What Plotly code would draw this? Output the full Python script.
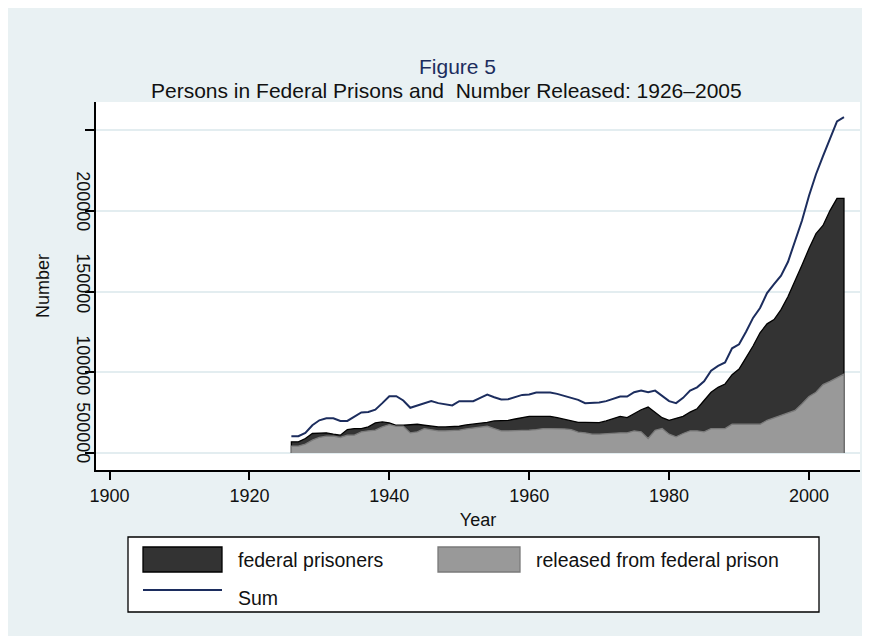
import plotly.graph_objects as go

# ---------------- data ----------------
years = list(range(1926, 2006))

federal_prisoners = [
    6950, 6950, 9000, 12070, 12470, 12470, 11660, 11040, 14520, 15130,   # 1926-1935
    15130, 16160, 18610, 19220, 18610, 17180, 17180, 17590, 17790, 17180,  # 1936-1945
    16560, 16160, 16160, 16160, 16560, 17380, 17790, 18200, 19020, 19840,  # 1946-1955
    19840, 20250, 21060, 21680, 22700, 22700, 22700, 22700, 21880, 21060,  # 1956-1965
    19840, 19020, 19020, 19020, 18800, 19840, 21270, 22700, 21880, 24340,  # 1966-1975
    26790, 28430, 25360, 21880, 20250, 21270, 22700, 25360, 27400, 32520,  # 1976-1985
    37630, 40690, 42740, 48470, 51940, 59100, 66260, 74440, 79960, 82620,  # 1986-1995
    88750, 96930, 106140, 116360, 126590, 135790, 140900, 150100, 157670, 157670,  # 1996-2005
]

released = [
    4290, 4290, 5520, 7980, 9610, 10430, 10430, 9610, 11040, 11040,        # 1926-1935
    13090, 13700, 14110, 16160, 17590, 16560, 16560, 12470, 13090, 15130,  # 1936-1945
    14520, 13700, 13700, 13700, 14110, 14930, 15340, 15750, 16560, 15130,  # 1946-1955
    13700, 13700, 13700, 13700, 14110, 14520, 15130, 15130, 15130, 14930,  # 1956-1965
    14520, 12880, 12470, 11660, 11660, 12070, 12470, 12470, 12470, 13700,  # 1966-1975
    13090, 9000, 14110, 15130, 11660, 10020, 12070, 13700, 13700, 13090,   # 1976-1985
    15130, 15130, 15130, 17790, 17790, 17790, 17790, 17790, 20250, 21880,  # 1986-1995
    23310, 24750, 26380, 30470, 34970, 37630, 42330, 44380, 46830, 48860,  # 1996-2005
]

sum_total = [
    10430, 10430, 12470, 17180, 20250, 21470, 21470, 19840, 19840, 22700,  # 1926-1935
    25150, 25360, 26790, 30880, 35170, 35170, 32520, 28020, 29450, 30880,  # 1936-1945
    32110, 30880, 30060, 29450, 32110, 32110, 32110, 34150, 36200, 34560,  # 1946-1955
    33130, 33330, 34560, 35990, 36200, 37420, 37420, 37420, 36600, 35370,  # 1956-1965
    34150, 32920, 30880, 30880, 31300, 32110, 33330, 34970, 34970, 37630,  # 1966-1975
    38650, 37630, 38650, 35580, 32110, 30880, 34150, 38650, 40690, 44370,  # 1976-1985
    50920, 53990, 56030, 64830, 67280, 75050, 83640, 89770, 98980, 104500, # 1986-1995
    109820, 118410, 130680, 143970, 159300, 172600, 183840, 195090, 205310, 207980,  # 1996-2005
]

x_tick_vals = [1900, 1920, 1940, 1960, 1980, 2000]
y_grid_vals = [0, 50000, 100000, 150000, 200000]
y_label_vals = [-4950, 14240, 52600, 103400, 154200]
y_label_text = ["0", "50000", "100000", "150000", "200000"]

series_names = ["federal prisoners", "released from federal prison", "Sum"]

# ---------------- styling ----------------
BG = "#e9f1f3"
GRID = "#e3edf0"
DARK = "#333333"
GRAY = "#999999"
NAVY = "#1c2d5e"
FONT = "Liberation Sans, Arial, sans-serif"
TXT = "#111111"

W, H = 862, 628          # page adds an 8px body margin
OFF = 8
ML, MR, MT, MB = 88, 10, 94, 166
PW, PH = W - ML - MR, H - MT - MB

def fx(px):  # page pixel -> paper x
    return (px - OFF - ML) / PW

def fy(py):  # page pixel -> paper y
    return (H - MB - (py - OFF)) / PH

X_RANGE = [1898.07, 2007.29]
Y_RANGE = [-10526, 217337]

fig = go.Figure()

fig.add_trace(go.Scatter(
    x=[years[0]] + years + [years[-1]],
    y=[0] + federal_prisoners + [0],
    mode="lines", fill="toself", fillcolor=DARK,
    line=dict(color="#000000", width=1.3),
    name=series_names[0], showlegend=False, hoverinfo="skip"))

fig.add_trace(go.Scatter(
    x=[years[0]] + years + [years[-1]],
    y=[0] + released + [0],
    mode="lines", fill="toself", fillcolor=GRAY,
    line=dict(color="#7a7a7a", width=1.3),
    name=series_names[1], showlegend=False, hoverinfo="skip"))

fig.add_trace(go.Scatter(
    x=years, y=sum_total, mode="lines",
    line=dict(color=NAVY, width=2),
    name=series_names[2], showlegend=False))

fig.add_trace(go.Scatter(x=[years[0]], y=[0], yaxis="y2", mode="markers",
                         marker=dict(opacity=0), showlegend=False, hoverinfo="skip"))

shapes = [
    dict(type="rect", xref="paper", yref="paper", x0=fx(128), x1=fx(819), y0=fy(612), y1=fy(537),
         fillcolor="white", line=dict(color="#000000", width=1.3), layer="above"),
    dict(type="rect", xref="paper", yref="paper", x0=fx(143), x1=fx(222), y0=fy(572), y1=fy(547),
         fillcolor=DARK, line=dict(color="#000000", width=1.3), layer="above"),
    dict(type="rect", xref="paper", yref="paper", x0=fx(438), x1=fx(520), y0=fy(572), y1=fy(547),
         fillcolor=GRAY, line=dict(color="#7a7a7a", width=1.3), layer="above"),
    dict(type="line", xref="paper", yref="paper", x0=fx(143), x1=fx(222), y0=fy(590), y1=fy(590),
         line=dict(color=NAVY, width=2), layer="above"),
]

annotations = [
    dict(text="Figure 5", xref="paper", yref="paper", x=fx(457), y=fy(66),
         xanchor="center", yanchor="middle", showarrow=False,
         font=dict(family=FONT, size=21, color=NAVY)),
    dict(text="Persons in Federal Prisons and  Number Released: 1926\u20132005",
         xref="paper", yref="paper", x=fx(446), y=fy(91),
         xanchor="center", yanchor="middle", showarrow=False,
         font=dict(family=FONT, size=21, color=TXT)),
    dict(text=series_names[0], xref="paper", yref="paper", x=fx(236), y=fy(560),
         xanchor="left", yanchor="middle", showarrow=False,
         font=dict(family=FONT, size=19.5, color=TXT)),
    dict(text=series_names[1], xref="paper", yref="paper", x=fx(534), y=fy(560),
         xanchor="left", yanchor="middle", showarrow=False,
         font=dict(family=FONT, size=19.5, color=TXT)),
    dict(text=series_names[2], xref="paper", yref="paper", x=fx(236), y=fy(598),
         xanchor="left", yanchor="middle", showarrow=False,
         font=dict(family=FONT, size=19.5, color=TXT)),
]

fig.update_layout(
    width=W, height=H,
    margin=dict(l=ML, r=MR, t=MT, b=MB, pad=0),
    paper_bgcolor=BG, plot_bgcolor="white",
    font=dict(family=FONT, size=18, color=TXT),
    showlegend=False,
    xaxis=dict(
        range=X_RANGE, tickmode="array", tickvals=x_tick_vals,
        ticks="outside", ticklen=8, tickwidth=2, tickcolor="#000000",
        showline=True, linecolor="#000000", linewidth=2,
        showgrid=False, zeroline=False,
        tickfont=dict(family=FONT, size=18, color=TXT),
        title=dict(text="Year", font=dict(family=FONT, size=18, color=TXT), standoff=9),
    ),
    yaxis=dict(
        range=Y_RANGE, tickmode="array", tickvals=y_grid_vals,
        showticklabels=False,
        ticks="outside", ticklen=9, tickwidth=2, tickcolor="#000000",
        showline=True, linecolor="#000000", linewidth=2,
        showgrid=True, gridcolor=GRID, gridwidth=1.5, zeroline=False,
    ),
    yaxis2=dict(
        range=Y_RANGE, overlaying="y", side="left", anchor="x",
        tickmode="array", tickvals=y_label_vals, ticktext=y_label_text,
        tickangle=90, ticks="", showline=False, showgrid=False, zeroline=False,
        tickfont=dict(family=FONT, size=18, color=TXT),
        title=dict(text="Number", font=dict(family=FONT, size=18, color=TXT), standoff=18),
    ),
    shapes=shapes,
    annotations=annotations,
)

fig.write_html("out.html")
